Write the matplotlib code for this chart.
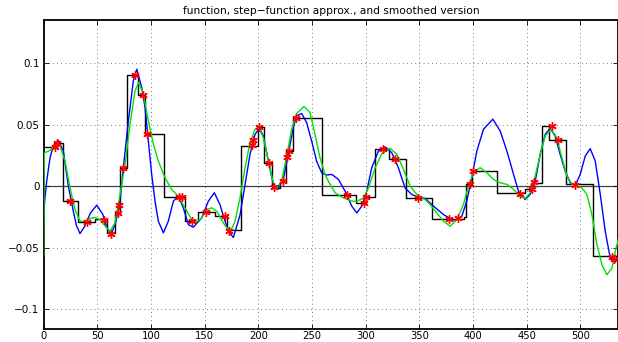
import matplotlib
matplotlib.use("Agg")
import matplotlib.pyplot as plt
import numpy as np

# step-function approximation
step_edges = [0, 10, 18, 32, 48, 59, 66, 71, 78, 88, 94, 112, 132, 144, 160, 171, 183.6, 200, 205, 212.5,
              220, 226, 232.6, 259, 290.5, 300, 308.5, 321.8, 337.6, 362, 392, 393.3, 398.9, 422.2, 448.6,
              453.9, 464.5, 470.3, 486.5, 511.3, 535]
step_vals = [0.032, 0.035, -0.012, -0.029, -0.027, -0.038, -0.022, 0.015, 0.090, 0.074,
             0.042, -0.009, -0.0285, -0.021, -0.0245, -0.036, 0.033, 0.048, 0.019, -0.0013,
             0.0033, 0.0285, 0.055, -0.0075, -0.0136, -0.009, 0.0305, 0.0218, -0.0095, -0.0265,
             -0.025, 0.0014, 0.0122, -0.006, -0.0027, 0.0027, 0.0489, 0.0372, 0.0018, -0.057]

# original function (blue)
func_x = [0, 1.2, 2.8, 5.9, 9.0, 13.6, 18.3, 23.0, 27.6, 30.5, 33.8, 38.0, 43.5, 49.4, 55.0, 58.5, 62.7,
          67.0, 71.1, 74.2, 78.9, 83.5, 86.7, 91.3, 94.4, 97.5, 100.6, 103.7, 106.8, 111.5, 116.1,
          120.8, 125.4, 130.1, 134.8, 139.4, 147.2, 153.4, 159.0, 164.2, 168.9, 172.5, 176.7, 182.9,
          187.6, 192.2, 196.9, 200.9, 204.6, 209.3, 213.9, 217.9, 223.2, 227.8, 232.5, 235.6, 240.3,
          244.9, 249.6, 254.2, 258.9, 263.6, 268.4, 274.6, 280.8, 287.0, 291.7, 296.3, 301.0, 305.6,
          311.8, 318.0, 324.2, 330.4, 336.6, 342.8, 349.0, 355.3, 363.1, 372.4, 380.2, 383.3, 389.5,
          394.1, 398.8, 403.5, 409.7, 418.4, 425.2, 431.5, 437.7, 442.3, 448.5, 453.2, 457.9, 462.5,
          467.2, 471.8, 476.5, 481.1, 485.8, 490.5, 495.1, 499.8, 504.5, 509.1, 513.8, 518.5, 523.1,
          527.8, 531.5, 535.2]
func_y = [-0.022, -0.0095, 0.004, 0.023, 0.0326, 0.0372, 0.0285, 0.0, -0.0204, -0.032, -0.0386, -0.033,
          -0.022, -0.0155, -0.0228, -0.033, -0.0394, -0.030, -0.0122, 0.015, 0.053, 0.0856, 0.095,
          0.0802, 0.0639, 0.0367, 0.0095, -0.0122, -0.0285, -0.038, -0.0285, -0.0122, -0.0082,
          -0.0177, -0.0313, -0.0334, -0.0258, -0.0122, -0.0054, -0.015, -0.0285, -0.037, -0.0418,
          -0.0235, 0.0014, 0.0258, 0.0421, 0.047, 0.0408, 0.0204, 0.0014, -0.0027, 0.0054, 0.0258,
          0.0476, 0.0571, 0.059, 0.0517, 0.0367, 0.0204, 0.0109, 0.009, 0.0095, 0.0054, -0.0041,
          -0.0163, -0.0218, -0.0163, -0.0041, 0.015, 0.0285, 0.0318, 0.0272, 0.015, -0.0014, -0.0068,
          -0.009, -0.010, -0.0163, -0.0231, -0.0272, -0.0275, -0.0245, -0.0122, 0.0068, 0.0285,
          0.0462, 0.0544, 0.0449, 0.0285, 0.0095, -0.0041, -0.0109, -0.0068, 0.0041, 0.0258, 0.0421,
          0.047, 0.0408, 0.0258, 0.0122, 0.0027, 0.0005, 0.0095, 0.0245, 0.0305, 0.0204, -0.0068,
          -0.0367, -0.0585, -0.0625, -0.0585]

# smoothed version (green)
smooth_x = [0, 0.6, 5.9, 10.5, 15.2, 19.9, 24.5, 29.2, 33.8, 40.0, 44.0, 47.8, 52.5, 58.7, 61.8, 66.4,
            71.1, 75.8, 80.4, 85.1, 88.5, 92.9, 97.5, 102.2, 106.8, 113.0, 119.2, 125.4, 131.6, 137.9,
            142.5, 147.2, 151.8, 156.5, 161.2, 167.4, 172.5, 175.5, 178.3, 182.9, 187.6, 192.2, 196.9,
            200.0, 204.6, 209.3, 213.9, 217.0, 221.7, 226.4, 231.0, 235.6, 242.5, 248.1, 252.7, 257.4,
            262.0, 266.8, 271.5, 277.7, 287.0, 291.7, 297.9, 302.6, 308.8, 315.0, 322.8, 329.0, 335.1,
            341.4, 347.6, 355.3, 360.0, 366.2, 372.4, 378.6, 384.8, 391.0, 395.7, 400.3, 406.5, 412.8,
            419.0, 425.2, 431.5, 437.7, 443.9, 448.5, 453.2, 457.9, 462.5, 467.2, 472.8, 478.1, 482.7,
            487.4, 492.1, 496.7, 501.4, 506.0, 510.7, 515.4, 520.0, 524.7, 529.4, 532.5, 535.2]
smooth_y = [-0.056, 0.027, 0.029, 0.034, 0.0326, 0.0204, -0.0014, -0.019, -0.0285, -0.0285, -0.026,
            -0.0255, -0.0272, -0.034, -0.0367, -0.030, -0.0068, 0.0177, 0.0503, 0.0775, 0.0843,
            0.0748, 0.053, 0.034, 0.0204, 0.0068, -0.0027, -0.0082, -0.0177, -0.0272, -0.0291,
            -0.0258, -0.019, -0.0177, -0.0204, -0.030, -0.0362, -0.034, -0.0285, -0.0095, 0.015,
            0.0353, 0.0462, 0.0481, 0.0394, 0.0204, 0.0027, -0.0014, 0.0041, 0.0245, 0.0462, 0.059,
            0.0647, 0.0598, 0.0421, 0.0231, 0.0095, 0.0014, -0.0054, -0.009, -0.0122, -0.0125,
            -0.0095, -0.0014, 0.015, 0.0264, 0.0307, 0.0258, 0.0136, 0.0, -0.0068, -0.0109, -0.015,
            -0.0218, -0.0285, -0.0326, -0.0272, -0.015, 0.0, 0.0109, 0.015, 0.0109, 0.0054, 0.0027,
            0.0014, -0.0027, -0.0082, -0.010, -0.0054, 0.0082, 0.0258, 0.0408, 0.0462, 0.0394,
            0.0231, 0.0082, 0.0014, 0.0, -0.0014, -0.0068, -0.0231, -0.0476, -0.0639, -0.072,
            -0.0666, -0.053, -0.0435]

# sample points (red stars)
pts_x = [10.5, 12.7, 24.5, 40.0, 56.5, 62.6, 68.9, 70.5, 74.2, 85.5, 92.9, 96.6, 126.4, 128.5, 137.9,
         150.9, 168.9, 173.0, 193.8, 195.4, 200.9, 210.0, 214.9, 222.7, 226.4, 228.6, 235.1, 283.0,
         298.5, 300.4, 316.5, 327.4, 348.5, 378.0, 386.4, 397.3, 399.8, 443.5, 454.8, 457.0, 473.4,
         479.0, 495.0, 529.2, 531.7]
pts_y = [0.0318, 0.0353, -0.0122, -0.0294, -0.0272, -0.0386, -0.0218, -0.0155, 0.015, 0.0905, 0.0742,
         0.0421, -0.009, -0.009, -0.0285, -0.0209, -0.0245, -0.0362, 0.0334, 0.0372, 0.0481, 0.019,
         -0.0008, 0.0041, 0.0237, 0.0285, 0.0557, -0.0073, -0.0136, -0.009, 0.0305, 0.0218, -0.010,
         -0.0264, -0.0258, 0.0014, 0.0122, -0.0065, -0.0027, 0.0033, 0.0489, 0.0372, 0.0008, -0.058,
         -0.059]

x_ticks = [0, 50, 100, 150, 200, 250, 300, 350, 400, 450, 500]
y_ticks = [-0.1, -0.05, 0, 0.05, 0.1]
y_ticklabels = ["\u22120.1", "\u22120.05", "0", "0.05", "0.1"]
title = "function, step\u2212function approx., and smoothed version"

plt.rcParams['font.family'] = ['DejaVu Sans']
fig = plt.figure(figsize=(6.18, 3.42), dpi=100)
ax = fig.add_axes([0.0707, 0.0385, 0.9293, 0.903])

ax.axhline(0, color='0.25', lw=0.9, zorder=1.5)
ax.step(step_edges, step_vals + [step_vals[-1]], where='post', color='black', lw=1.0, zorder=2)
ax.plot(func_x, func_y, color='#0000ff', lw=1.0, zorder=3)
ax.plot(smooth_x, smooth_y, color='#00e000', lw=1.0, zorder=4)
ax.plot(pts_x, pts_y, linestyle='none', marker=(6, 2, 0), color='red', markersize=6, mew=1.0, zorder=5)

ax.set_xlim(0, 535)
ax.set_ylim(-0.116, 0.135)
ax.set_xticks(x_ticks)
ax.set_yticks(y_ticks)
ax.set_yticklabels(y_ticklabels)
ax.tick_params(direction='in', length=3.5, width=0.6, labelsize=7.5, top=True, right=True, pad=3)
ax.tick_params(axis='x', labelsize=7.2, pad=1.5)
ax.grid(True, color='0.3', linestyle=(0, (1, 4)), lw=0.6)
for s in ax.spines.values():
    s.set_linewidth(1.3)
ax.set_title(title, fontsize=7.7, pad=4)

fig.savefig("out.png", dpi=100)
